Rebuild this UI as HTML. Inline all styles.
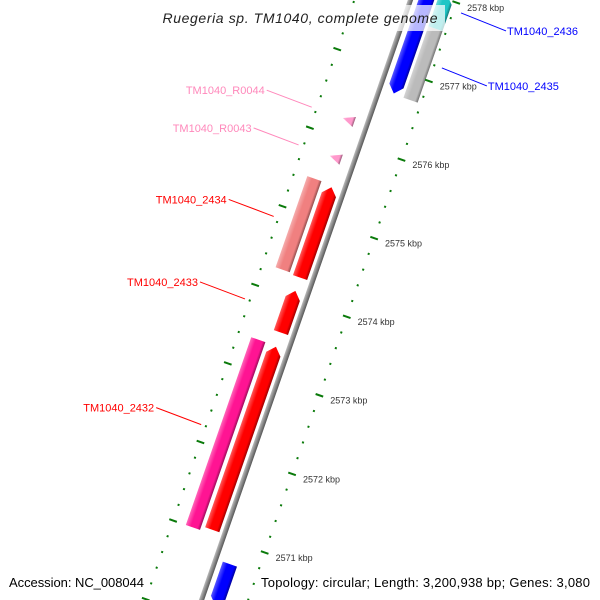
<!DOCTYPE html>
<html><head><meta charset="utf-8"><style>
html,body{margin:0;padding:0;background:#fff;}
svg{display:block;font-family:"Liberation Sans",sans-serif;}
</style></head><body>
<svg id="map" width="600" height="600" viewBox="0 0 600 600">
<defs>
<linearGradient id="gBack" x1="0" x2="1" y1="0" y2="0"><stop offset="0" stop-color="#bbb"/><stop offset="0.5" stop-color="#888"/><stop offset="1" stop-color="#555"/></linearGradient>
</defs>
<g id="rot" transform="translate(306,300) rotate(19.2)">
<rect x="-2.5" y="-420" width="5" height="840" fill="url(#gBack)"/>
</g>
<g id="labels"></g>
<rect x="155" y="5" width="290" height="26" fill="#fff" fill-opacity="0.72"/>
<text x="300" y="23" text-anchor="middle" font-style="italic" font-size="14" fill="#222" textLength="275">Ruegeria sp. TM1040, complete genome</text>
<text x="9" y="587" font-size="13" fill="#000" textLength="135">Accession: NC_008044</text>
<text x="261" y="587" font-size="13" fill="#000" textLength="329">Topology: circular; Length: 3,200,938 bp; Genes: 3,080</text>
</svg>
<script>
const geneNames = ["TM1040_2431","TM1040_2432","TM1040_2432b","TM1040_2433","TM1040_2434","TM1040_2434b","TM1040_R0043","TM1040_R0044","TM1040_2435","TM1040_2435b","TM1040_2436"];
const geneStarts = [2570.2, 2571.05, 2571.0, 2573.56, 2574.26, 2574.28, 2575.72, 2576.20, 2576.72, 2576.71, 2577.62];
const geneEnds =   [2570.73, 2573.38, 2573.39, 2574.09, 2575.41, 2575.44, 2575.80, 2576.28, 2578.4, 2577.62, 2578.05];
const geneStrands = [-1, 1, 0, 1, 1, 0, -2, -2, -1, 0, 1];
const geneLanes = [15, -13, -32, -13, -13, -32, -17, -17, 15, 33, 33];
const geneColors = ["#0000ff","#ff0000","#ff1493","#ff0000","#ff0000","#f08080","#ff99cc","#ff99cc","#0000ff","#bbbbbb","#1fc6c6"];
const tickKbp = [2570,2571,2572,2573,2574,2575,2576,2577,2578,2579];
const tickLabels = ["2570 kbp","2571 kbp","2572 kbp","2573 kbp","2574 kbp","2575 kbp","2576 kbp","2577 kbp","2578 kbp","2579 kbp"];
const calloutNames = ["TM1040_R0044","TM1040_R0043","TM1040_2434","TM1040_2433","TM1040_2432","TM1040_2436","TM1040_2435"];
const calloutKbp = [2576.24, 2575.76, 2574.85, 2573.8, 2572.2, 2577.9, 2577.2];
const calloutColors = ["#ff88bb","#ff88bb","#ff0000","#ff0000","#ff0000","#0000ff","#0000ff"];
const calloutSide = [-1,-1,-1,-1,-1,1,1];

const NS="http://www.w3.org/2000/svg";
const C=Math.cos(19.2*Math.PI/180), S=Math.sin(19.2*Math.PI/180);
function ly(p){return 252-(p-2571)*83.2;}
function toScreen(lx,y){return [306+lx*C-y*S, 300+lx*S+y*C];}
const rot=document.getElementById('rot'), labels=document.getElementById('labels');
function mk(tag,attrs,parent){const e=document.createElementNS(NS,tag);for(const k in attrs)e.setAttribute(k,attrs[k]);parent.appendChild(e);return e;}
const defs=document.querySelector('defs');
function shade(hex){const n=parseInt(hex.slice(1),16);const r=n>>16,g=(n>>8)&255,b=n&255;const d=v=>Math.round(v*0.6);const l=v=>Math.round(v+(255-v)*0.35);return ['rgb('+l(r)+','+l(g)+','+l(b)+')',hex,'rgb('+d(r)+','+d(g)+','+d(b)+')'];}
geneNames.forEach((n,i)=>{
  const s=shade(geneColors[i]);
  const gid='gr'+i;
  const lg=mk('linearGradient',{id:gid,x1:'0',x2:'1',y1:'0',y2:'0'},defs);
  mk('stop',{offset:'0','stop-color':s[0]},lg);mk('stop',{offset:'0.35','stop-color':s[1]},lg);mk('stop',{offset:'0.8','stop-color':s[1]},lg);mk('stop',{offset:'1','stop-color':s[2]},lg);
  const x=geneLanes[i], w=7.5, y1=ly(geneEnds[i]), y2=ly(geneStarts[i]);
  let pts;
  const st=geneStrands[i];
  if(st===1){const h=Math.min(8,(y2-y1));pts=[[x-w,y2],[x+w,y2],[x+w,y1+h],[x,y1],[x-w,y1+h]];}
  else if(st===-1){const h=Math.min(8,(y2-y1));pts=[[x-w,y1],[x+w,y1],[x+w,y2-h],[x,y2],[x-w,y2-h]];}
  else if(st===-2){pts=[[x-8,(y1+y2)/2],[x+4,y1-2],[x+4,y2+2]];}
  else {pts=[[x-w,y1],[x+w,y1],[x+w,y2],[x-w,y2]];}
  const el=mk('polygon',{points:pts.map(p=>p.join(',')).join(' '),fill:'url(#'+gid+')'},rot);
  
  
});
for(let k=0;k<=50;k++){
  const p=2570+k*0.2; const major=(k%5===0);
  [44,-53].forEach(r=>{
    const len=major?8:2, th=major?2:2;
    const t=mk('rect',{x:r-len/2,y:ly(p)-th/2,width:len,height:th,fill:'#0a7a0a'},rot);
    
    
  });
}
tickKbp.forEach((p,i)=>{
  const [sx,sy]=toScreen(58,ly(p)+4);
  const t=mk('text',{x:sx-1,y:sy,'font-size':'9',fill:'#333'},labels);
  t.textContent=tickLabels[i];
  
  
});
calloutNames.forEach((n,i)=>{
  const side=calloutSide[i];
  const [ax,ay]=toScreen(side<0?-58:52,ly(calloutKbp[i]));
  const ex=ax+side*45, ey=ay+(side<0?-17:18);
  const l=mk('line',{x1:ax,y1:ay,x2:ex,y2:ey,stroke:calloutColors[i],'stroke-width':'1'},labels);
  
  
  const t=mk('text',{x:side<0?ex-2:ex+1,y:ey+4,'font-size':'11',fill:calloutColors[i],'text-anchor':side<0?'end':'start'},labels);
  t.textContent=n;
  
  
});
</script>
</body></html>
